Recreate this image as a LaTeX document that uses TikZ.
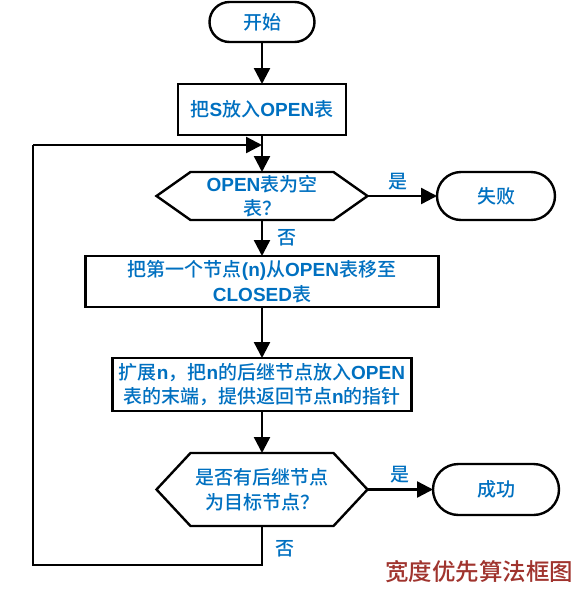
\documentclass[tikz,border=0pt]{standalone}
\usepackage{fontspec}
\setmainfont{Noto Sans CJK SC}[UprightFont=* Medium]
\newfontfamily\latfont{Liberation Sans}
\newcommand\latn[1]{{\latfont\bfseries #1}}
\usetikzlibrary{arrows.meta,shapes.misc,calc}
\definecolor{txtblue}{RGB}{0,112,192}
\definecolor{ttlred}{RGB}{160,52,46}
\begin{document}
\begin{tikzpicture}[x=1pt,y=-1pt,
  every node/.style={inner sep=0pt,outer sep=0pt,font=\fontsize{19}{24.5}\selectfont,text=txtblue,align=center},
  ln/.style={line width=2.4pt,draw=black},
  arr/.style={ln,-{Triangle[length=16pt,width=16pt]}},
  term/.style={ln,rounded rectangle,minimum width=#1},
  procbox/.style={ln,rectangle},
  lbl/.style={font=\fontsize{19}{22}\selectfont}]
\useasboundingbox (0,0) rectangle (585,590);
\node[term=105pt,minimum height=40pt] (start) at (262,22) {开始};
\node[procbox,minimum width=168pt,minimum height=51pt] (box1) at (262,109.5) {把\latn{S}放入\latn{OPEN}表};
\node[minimum width=211pt,minimum height=48pt] (hex1) at (262,196) {\latn{OPEN}表为空\\表？};
\draw[ln,line join=miter] (hex1.west) -- ([xshift=34pt]hex1.north west) -- ([xshift=-34pt]hex1.north east) -- (hex1.east) -- ([xshift=-34pt]hex1.south east) -- ([xshift=34pt]hex1.south west) -- cycle;
\node[term=118pt,minimum height=48pt] (fail) at (496,196) {失败};
\node[procbox,minimum width=353pt,minimum height=51pt] (box2) at (262,281.5) {把第一个节点\latn{(n)}从\latn{OPEN}表移至\\\latn{CLOSED}表};
\node[procbox,minimum width=299pt,minimum height=53pt] (box3) at (262,384.5) {扩展\latn{n}，把\latn{n}的后继节点放入\latn{OPEN}\\表的末端，提供返回节点\latn{n}的指针};
\node[minimum width=211pt,minimum height=73pt] (hex2) at (262,489.5) {是否有后继节点\\为目标节点？};
\draw[ln,line join=miter] (hex2.west) -- ([xshift=34pt]hex2.north west) -- ([xshift=-34pt]hex2.north east) -- (hex2.east) -- ([xshift=-34pt]hex2.south east) -- ([xshift=34pt]hex2.south west) -- cycle;
\node[term=126pt,minimum height=51pt] (succ) at (496,489.5) {成功};
\node[font=\fontsize{23.5}{26}\selectfont,text=ttlred] (title) at (479,572) {宽度优先算法框图};
\coordinate (lb) at (33,565);
\coordinate (lt) at (33,145);
\draw[arr] (start) -- (box1);
\draw[arr] (box1) -- (hex1);
\draw[arr] (hex1) -- (box2);
\draw[arr] (hex1) -- (fail);
\draw[arr] (box2) -- (box3);
\draw[arr] (box3) -- (hex2);
\draw[arr] (hex2) -- (succ);
\draw[ln] (hex2.south) -- (hex2.south |- lb) -- (lb) -- (lt);
\draw[arr] (lt) -- (lt -| box1.south);
\node[lbl] (no1) at (287,238) {否};
\node[lbl] (yes1) at (398,182) {是};
\node[lbl] (yes2) at (400,475) {是};
\node[lbl] (no2) at (285,549) {否};
\end{tikzpicture}
\end{document}
